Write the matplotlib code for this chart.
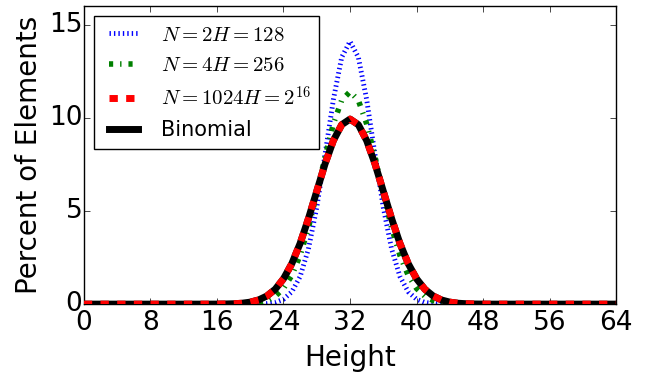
import matplotlib
matplotlib.use("Agg")
import matplotlib.pyplot as plt

plt.style.use("classic")

# percent of elements at each height 0..64
heights = list(range(65))

pct_128 = [0] * 21 + [0.01, 0.03, 0.09, 0.26, 0.66, 1.48, 2.96, 5.19, 8.03, 10.98, 13.25,
                      14.1,
                      13.25, 10.98, 8.03, 5.19, 2.96, 1.48, 0.66, 0.26, 0.09, 0.03, 0.01] + [0] * 21
pct_256 = [0] * 19 + [0.01, 0.03, 0.08, 0.19, 0.42, 0.84, 1.54, 2.62, 4.11, 5.93, 7.90, 9.68, 10.94,
                      11.4,
                      10.94, 9.68, 7.90, 5.93, 4.11, 2.62, 1.54, 0.84, 0.42, 0.19, 0.08, 0.03, 0.01] + [0] * 19
pct_2e16 = [0] * 16 + [0.003, 0.008, 0.02, 0.047, 0.106, 0.223, 0.435, 0.795, 1.36, 2.17, 3.26, 4.59,
                       6.06, 7.53, 8.78, 9.63,
                       9.93,
                       9.63, 8.78, 7.53, 6.06, 4.59, 3.26, 2.17, 1.36, 0.795, 0.435, 0.223, 0.106, 0.047,
                       0.02, 0.008, 0.003] + [0] * 16
pct_binom = list(pct_2e16)

labels = [r"$N=2H=128$", r"$N=4H=256$", r"$N=1024H=2^{16}$", "Binomial"]
xticks = list(range(0, 65, 8))
yticks = [0, 5, 10, 15]

fig = plt.figure(figsize=(6.5, 3.75), dpi=100, facecolor="white")
ax = fig.add_axes([0.129, 0.189, 0.819, 0.795])

l1, = ax.plot(heights, pct_128, color="blue", linestyle=(0, (1, 2.2)), linewidth=3.5, zorder=2)
l2, = ax.plot(heights, pct_256, color="green", linestyle="-.", linewidth=4, zorder=3)
l3, = ax.plot(heights, pct_2e16, color="red", linestyle="--", linewidth=5, zorder=5)
l4, = ax.plot(heights, pct_binom, color="black", linestyle="-", linewidth=5, zorder=4)

ax.set_xlim(0, 64)
ax.set_ylim(0, 16)
ax.set_xticks(xticks)
ax.set_yticks(yticks)
ax.tick_params(axis="x", labelsize=19, pad=4)
ax.tick_params(axis="y", labelsize=19, pad=1)
ax.set_xlabel("Height", fontsize=20, labelpad=6)
ax.set_ylabel("Percent of Elements", fontsize=20, labelpad=4.5)

ax.legend([l1, l2, l3, l4], labels, loc="upper left", fontsize=15)

fig.savefig("out.png", dpi=100, facecolor="white")
